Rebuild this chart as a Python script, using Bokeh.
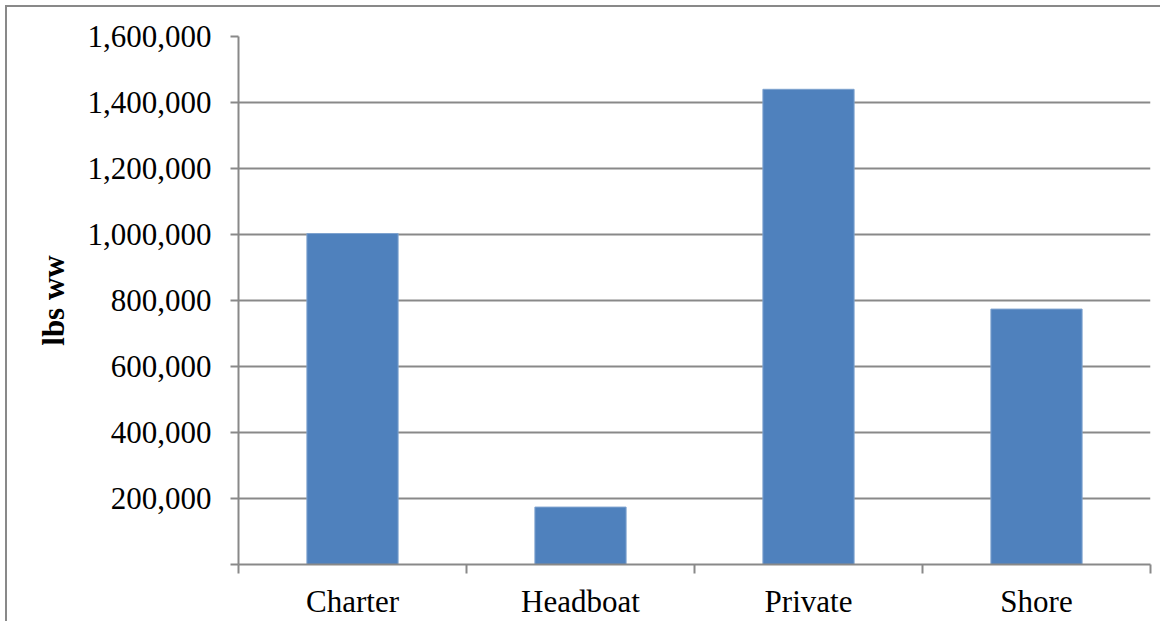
from bokeh.plotting import figure
from bokeh.models import Range1d, FixedTicker, NumeralTickFormatter
from bokeh.embed import file_html
from bokeh.resources import INLINE

categories = ["Charter", "Headboat", "Private", "Shore"]
values = [1003000, 174000, 1440000, 774000]
y_ticks = [0, 200000, 400000, 600000, 800000, 1000000, 1200000, 1400000, 1600000]

FONT = "Liberation Serif"
GRAY = "#898989"
BLUE = "#4F81BD"

n = len(categories)
centers = [i + 0.5 for i in range(n)]
bounds = [float(i) for i in range(n + 1)]

p = figure(width=1160, height=621, output_backend="svg", toolbar_location=None,
           x_range=Range1d(0, n), y_range=Range1d(0, y_ticks[-1]),
           min_border_left=238, min_border_top=36, min_border_right=10, min_border_bottom=54)
p.outline_line_color = None
p.background_fill_color = "white"
p.border_fill_color = None
# outer chart border (top and left edges visible in the reference)
p.styles = {
    "background": ("linear-gradient(#898989, #898989) 5px 5px / 100% 2px no-repeat, "
                   "linear-gradient(#898989, #898989) 5px 5px / 2px 100% no-repeat, white"),
}

p.vbar(x=centers, top=values, width=0.4, bottom=0, fill_color=BLUE, line_color="#7FA3CF", line_width=1)

# x axis
xa = p.xaxis[0]
xa.ticker = FixedTicker(ticks=centers, minor_ticks=bounds)
xa.major_label_overrides = {c: lab for c, lab in zip(centers, categories)}
xa.major_tick_line_color = None
xa.major_tick_out = 9
xa.major_tick_in = 0
xa.minor_tick_line_color = GRAY
xa.minor_tick_line_width = 2
xa.minor_tick_out = 9
xa.minor_tick_in = 0
xa.axis_line_color = GRAY
xa.axis_line_width = 2
xa.major_label_text_font = FONT
xa.major_label_text_font_size = "31px"
xa.major_label_text_color = "black"
xa.major_label_standoff = 10

# y axis
ya = p.yaxis[0]
ya.ticker = FixedTicker(ticks=y_ticks, minor_ticks=[])
ya.formatter = NumeralTickFormatter(format="0,0")
ya.major_label_overrides = {0: ""}
ya.major_tick_line_color = GRAY
ya.major_tick_line_width = 2
ya.major_tick_out = 8
ya.major_tick_in = 0
ya.minor_tick_line_color = None
ya.axis_line_color = GRAY
ya.axis_line_width = 2
ya.major_label_text_font = FONT
ya.major_label_text_font_size = "31px"
ya.major_label_text_color = "black"
ya.major_label_standoff = 19
ya.axis_label = "lbs ww"
ya.axis_label_text_font = FONT
ya.axis_label_text_font_size = "31px"
ya.axis_label_text_font_style = "bold"
ya.axis_label_text_color = "black"
ya.axis_label_standoff = 14

p.xgrid.grid_line_color = None
p.ygrid.ticker = FixedTicker(ticks=y_ticks)
p.ygrid.grid_line_color = GRAY
p.ygrid.grid_line_width = 2

open("out.html", "w").write(file_html(p, INLINE))
